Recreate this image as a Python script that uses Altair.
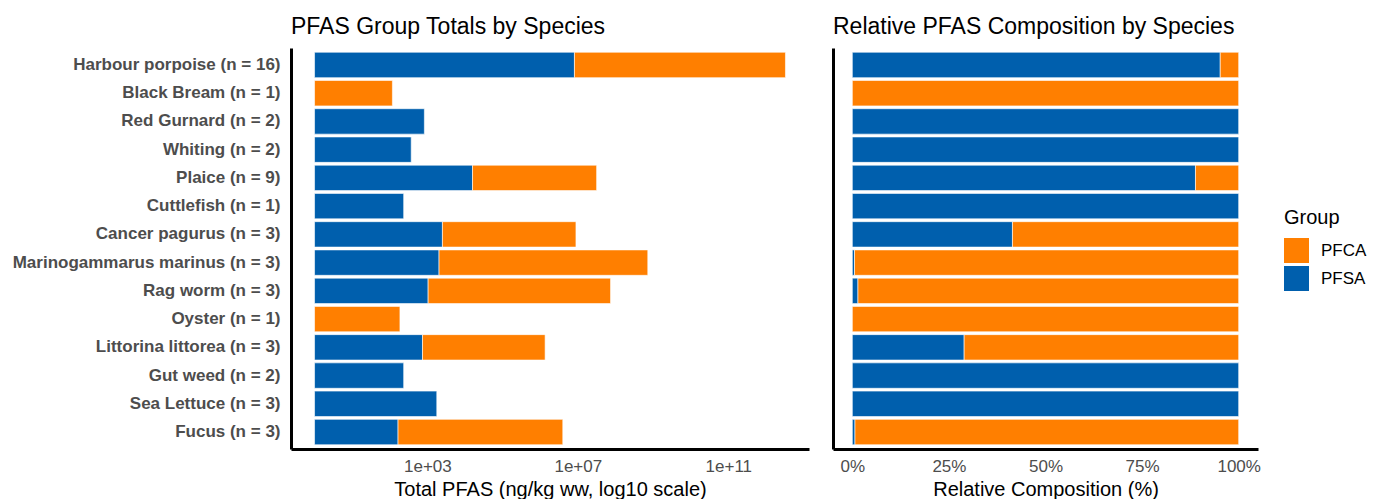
import altair as alt
import pandas as pd

species = [
    "Harbour porpoise (n = 16)", "Black Bream (n = 1)", "Red Gurnard (n = 2)",
    "Whiting (n = 2)", "Plaice (n = 9)", "Cuttlefish (n = 1)",
    "Cancer pagurus (n = 3)", "Marinogammarus marinus (n = 3)", "Rag worm (n = 3)",
    "Oyster (n = 1)", "Littorina littorea (n = 3)", "Gut weed (n = 2)",
    "Sea Lettuce (n = 3)", "Fucus (n = 3)",
]
# log10 of summed concentration (ng/kg ww) per group; None = not detected
pfsa_log10 = [6.91, None, 2.92, 2.57, 4.20, 2.37, 3.40, 3.31, 3.02, None, 2.87, 2.37, 3.25, 2.22]
pfca_log10 = [5.61, 2.07, None, None, 3.30, None, 3.55, 5.55, 4.85, 2.27, 3.26, None, None, 4.38]

groups = ["PFCA", "PFSA"]
colors = ["#FF7F00", "#005FAD"]
log_ticks = [3, 7, 11]

rows = []
for sp, s, c in zip(species, pfsa_log10, pfca_log10):
    if s is not None:
        rows.append({"species": sp, "group": "PFSA", "ord": 0, "start": 0.0, "end": s, "conc": 10 ** s})
    if c is not None:
        base = s if s is not None else 0.0
        rows.append({"species": sp, "group": "PFCA", "ord": 1, "start": base, "end": base + c, "conc": 10 ** c})
df = pd.DataFrame(rows)

xmax = df["end"].max()
pad = 0.05 * xmax

FONT = "Liberation Sans"
GREY = "#4D4D4D"

color_enc = alt.Color(
    "group:N",
    scale=alt.Scale(domain=groups, range=colors),
    legend=alt.Legend(
        title="Group", orient="none", legendX=993, legendY=160,
        symbolType="square", symbolSize=625, symbolStrokeWidth=0,
        titleFontSize=20, titleFont=FONT, titleFontWeight="normal", titleColor="black",
        labelFontSize=17, labelFont=FONT, labelColor="black",
        rowPadding=3, labelOffset=12, titlePadding=10,
    ),
)

y_scale = alt.Scale(paddingInner=0.1, paddingOuter=0.15)

left = alt.Chart(df).mark_bar(stroke="white", strokeWidth=0.6).encode(
    y=alt.Y("species:N", sort=species, scale=y_scale,
            axis=alt.Axis(title=None, labelFontSize=17, labelFontWeight="bold",
                          labelColor=GREY, labelFont=FONT, labelPadding=11, ticks=False,
                          labelLimit=500, domainColor="black", domainWidth=3)),
    x=alt.X("start:Q", scale=alt.Scale(domain=[-pad, xmax + pad], nice=False, zero=False),
            axis=alt.Axis(values=log_ticks, title="Total PFAS (ng/kg ww, log10 scale)",
                          labelExpr="'1e+' + (datum.value < 10 ? '0' : '') + datum.value",
                          labelFontSize=17, labelColor=GREY, labelFont=FONT, labelPadding=9,
                          titleFontSize=20, titleFont=FONT, titleFontWeight="normal",
                          titleColor="black", titlePadding=5, ticks=False,
                          domainColor="black", domainWidth=3)),
    x2="end:Q",
    color=color_enc,
).properties(
    width=518, height=401,
    title=alt.TitleParams("PFAS Group Totals by Species", anchor="start", frame="group",
                          fontSize=23, font=FONT, fontWeight="normal", color="black",
                          offset=9),
)

right = alt.Chart(df).mark_bar(stroke="white", strokeWidth=0.6).encode(
    y=alt.Y("species:N", sort=species, scale=y_scale,
            axis=alt.Axis(title=None, labels=False, ticks=False, domainColor="black",
                          domainWidth=3, minExtent=0, maxExtent=0)),
    x=alt.X("conc:Q", stack="normalize",
            scale=alt.Scale(domain=[-0.05, 1.05], nice=False, zero=False),
            axis=alt.Axis(values=[0, 0.25, 0.5, 0.75, 1], format="%", title="Relative Composition (%)",
                          labelFontSize=17, labelColor=GREY, labelFont=FONT, labelPadding=9,
                          titleFontSize=20, titleFont=FONT, titleFontWeight="normal",
                          titleColor="black", titlePadding=5, ticks=False,
                          domainColor="black", domainWidth=3)),
    color=color_enc,
    order=alt.Order("ord:Q"),
).properties(
    width=425, height=401,
    title=alt.TitleParams("Relative PFAS Composition by Species", anchor="start", frame="group",
                          fontSize=23, font=FONT, fontWeight="normal", color="black",
                          offset=9),
)

chart = alt.hconcat(left, right, spacing=24).properties(
    padding={"left": 4, "top": 8, "right": 0, "bottom": 0}
).configure_view(stroke=None).configure_axis(grid=False)

chart.save("out.html", embed_options={"renderer": "svg", "actions": False})
